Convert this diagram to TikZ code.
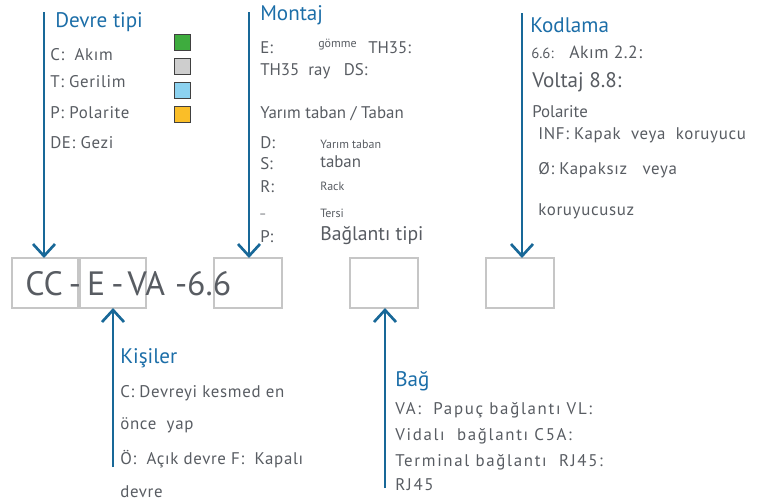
\documentclass[tikz,border=0pt]{standalone}
\usepackage{fontspec}
\setmainfont{PT Sans}
\usetikzlibrary{arrows.meta,positioning,calc}
\definecolor{titleblue}{RGB}{28,110,168}
\definecolor{arrowblue}{RGB}{24,104,152}
\definecolor{textgray}{RGB}{88,92,98}
\definecolor{framegray}{RGB}{198,198,198}
\definecolor{swgreen}{RGB}{62,172,62}
\definecolor{swgray}{RGB}{206,206,206}
\definecolor{swblue}{RGB}{140,210,240}
\definecolor{sworange}{RGB}{250,190,40}
\begin{document}
\begin{tikzpicture}[x=0.025cm,y=-0.025cm,
 head/.style={anchor=west,inner sep=0,text=titleblue,font=\fontsize{15}{17}\selectfont},
 txt/.style={anchor=west,inner sep=0,text=textgray,font=\fontsize{12}{14}\selectfont},
 spaced/.style={txt,font=\fontsize{12}{14}\selectfont\addfontfeature{LetterSpace=4}},
 wide/.style={txt,font=\fontsize{12}{14}\selectfont\addfontfeature{LetterSpace=10}},
 small/.style={anchor=west,inner sep=0,text=textgray,font=\fontsize{8.5}{10}\selectfont},
 slot/.style={draw=framegray,line width=1pt,anchor=north west,minimum width=1.7cm,minimum height=1.25cm,inner sep=0,outer sep=0},
 swatch/.style={draw=black!75,line width=0.6pt,anchor=north west,minimum size=0.39cm,inner sep=0},
 arr/.style={draw=arrowblue,line width=1.9pt,-{Straight Barb[length=3mm,width=5.5mm,line width=1.9pt]}}]
\useasboundingbox (0,0) rectangle (768,502);
\node[slot] (cc) at (12,258) {};
\node[slot] (ev) at (78,258) {};
\node[slot] (mnt) at (214,258) {};
\node[slot] (bag) at (350,258) {};
\node[slot] (kod) at (486,258) {};
\node[anchor=west,inner sep=0,text=textgray,font=\fontsize{24}{26}\selectfont] (code) at (25,284) {CC\hspace{0.18em}-\hspace{0.18em}E\hspace{0.18em}-\hspace{0.12em}VA\hspace{0.3em}-6.6};
% Devre tipi
\node[head] (tiptitle) at (55,22) {Devre tipi};
\node[spaced] (tip1) at (50,55) {C:\ \ Akım};
\node[spaced] (tip2) at (50,82) {T: Gerilim};
\node[spaced] (tip3) at (50,113) {P: Polarite};
\node[spaced] (tip4) at (50,143) {DE: Gezi};
\node[swatch,fill=swgreen] (sw1) at (174,34) {};
\node[swatch,fill=swgray] (sw2) at (174,58) {};
\node[swatch,fill=swblue] (sw3) at (174,82) {};
\node[swatch,fill=sworange] (sw4) at (174,106) {};
% Montaj
\node[head] (mnttitle) at (260,15) {Montaj};
\node[txt] (mnt1) at (260,48) {E:};
\node[small] (mnt1b) at (318,45) {gömme};
\node[txt] (mnt1c) at (368,48) {TH35:};
\node[txt] (mnt2) at (260,71) {TH35\ \ ray\ \ \ DS:};
\node[txt] (mnt3) at (260,114) {Yarım taban / Taban};
\node[txt] (mnt4) at (260,143) {D:};
\node[small] (mnt4b) at (320,144) {Yarım taban};
\node[txt] (mnt5) at (260,164) {S:};
\node[txt] (mnt5b) at (320,162) {taban};
\node[txt] (mnt6) at (260,187) {R:};
\node[small] (mnt6b) at (320,186) {Rack};
\node[small] (mnt7) at (260,214) {\_};
\node[small] (mnt7b) at (320,213) {Tersi};
\node[txt] (mnt8) at (260,237) {P:};
\node[txt,font=\fontsize{14}{16}\selectfont] (mnt8b) at (320,235) {Bağlantı tipi};
% Kodlama
\node[head] (kodtitle) at (530,25) {Kodlama};
\node[txt,font=\fontsize{10.5}{12}\selectfont] (kod1) at (531,53) {6.6:};
\node[txt,font=\fontsize{12.5}{14}\selectfont\addfontfeature{LetterSpace=3}] (kod1b) at (569,52) {Akım 2.2:};
\node[txt,font=\fontsize{15}{17}\selectfont] (kod2) at (532,82) {Voltaj 8.8:};
\node[txt] (kod3) at (532,112) {Polarite};
\node[spaced] (kod4) at (538,135) {INF: Kapak\ \ veya\ \ koruyucu};
\node[spaced] (kod5) at (538,170) {Ø: Kapaksız\ \ \ veya};
\node[spaced] (kod6) at (538,211) {koruyucusuz};
% Kisiler
\node[head] (kistitle) at (120,358) {Kişiler};
\node[spaced] (kis1) at (120,393) {C: Devreyi kesmed\ en};
\node[spaced] (kis2) at (120,425) {önce\ \ yap};
\node[spaced] (kis3) at (120,459) {Ö:\ \ Açık devre F:\ \ Kapalı};
\node[spaced] (kis4) at (120,492) {devre};
% Bag
\node[head] (bagtitle) at (395,381) {Bağ};
\node[wide] (bag1) at (395,410) {VA:\ \ Papuç bağlantı VL:};
\node[wide] (bag2) at (395,436) {Vidalı\ \ bağlantı C5A:};
\node[wide] (bag3) at (395,462) {Terminal bağlantı\ \ RJ45:};
\node[wide] (bag4) at (395,485) {RJ45};
\coordinate (tipsrc) at (44,12);
\coordinate (mntsrc) at (249,12);
\coordinate (kodsrc) at (522,13);
\coordinate (kissrc) at (113,467);
\coordinate (bagsrc) at (385,488);
\draw[arr] (tipsrc)--(tipsrc |- cc.north);
\draw[arr] (mntsrc)--(mntsrc |- mnt.north);
\draw[arr] (kodsrc)--(kodsrc |- kod.north);
\draw[arr] (kissrc)--(kissrc |- ev.south);
\draw[arr] (bagsrc)--(bagsrc |- bag.south);
\end{tikzpicture}
\end{document}
